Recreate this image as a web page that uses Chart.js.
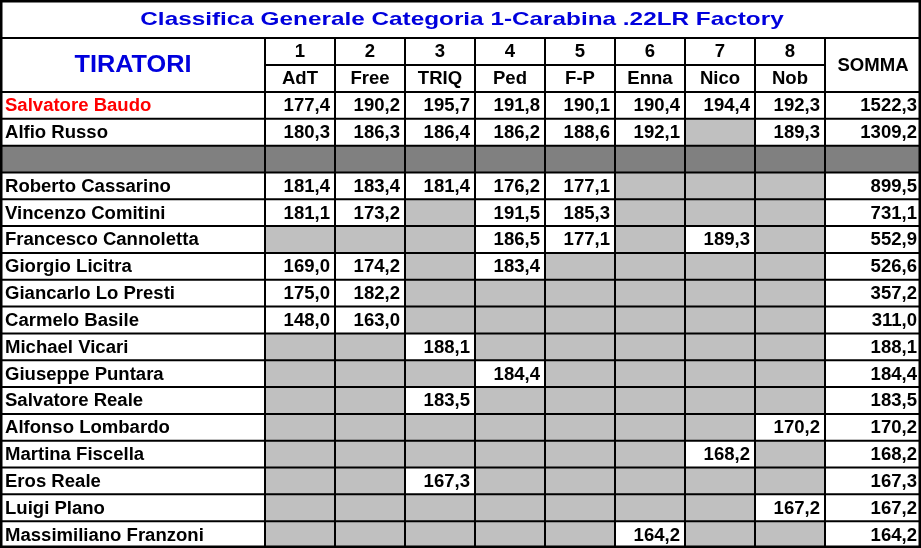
<!DOCTYPE html>
<html><head><meta charset="utf-8">
<script src="https://cdn.jsdelivr.net/npm/chart.js@4"></script>
<style>html,body{margin:0;padding:0;background:#fff}#wrap{width:921px;height:548px}</style>
</head><body><div id="wrap"><canvas id="tbl"></canvas></div>
<script>
const title = 'Classifica Generale Categoria 1-Carabina .22LR Factory';
const roundNums = ['1', '2', '3', '4', '5', '6', '7', '8'];
const roundNames = ['AdT', 'Free', 'TRIQ', 'Ped', 'F-P', 'Enna', 'Nico', 'Nob'];
const shooters = ['Salvatore Baudo', 'Alfio Russo', '', 'Roberto Cassarino', 'Vincenzo Comitini',
  'Francesco Cannoletta', 'Giorgio Licitra', 'Giancarlo Lo Presti', 'Carmelo Basile', 'Michael Vicari',
  'Giuseppe Puntara', 'Salvatore Reale', 'Alfonso Lombardo', 'Martina Fiscella', 'Eros Reale',
  'Luigi Plano', 'Massimiliano Franzoni'];
const _ = null;
const scores = [
  [177.4, 190.2, 195.7, 191.8, 190.1, 190.4, 194.4, 192.3],
  [180.3, 186.3, 186.4, 186.2, 188.6, 192.1, _, 189.3],
  'sep',
  [181.4, 183.4, 181.4, 176.2, 177.1, _, _, _],
  [181.1, 173.2, _, 191.5, 185.3, _, _, _],
  [_, _, _, 186.5, 177.1, _, 189.3, _],
  [169.0, 174.2, _, 183.4, _, _, _, _],
  [175.0, 182.2, _, _, _, _, _, _],
  [148.0, 163.0, _, _, _, _, _, _],
  [_, _, 188.1, _, _, _, _, _],
  [_, _, _, 184.4, _, _, _, _],
  [_, _, 183.5, _, _, _, _, _],
  [_, _, _, _, _, _, _, 170.2],
  [_, _, _, _, _, _, 168.2, _],
  [_, _, 167.3, _, _, _, _, _],
  [_, _, _, _, _, _, _, 167.2],
  [_, _, _, _, _, 164.2, _, _]
];
const totals = [1522.3, 1309.2, _, 899.5, 731.1, 552.9, 526.6, 357.2, 311.0, 188.1, 184.4, 183.5, 170.2, 168.2, 167.3, 167.2, 164.2];

// column edges and row layout in the scale's units
const colEdges = [0, 265, 335, 405, 475, 545, 615, 685, 755, 825, 921];
const titleH = 38, headH = 27, rowH = (548 - titleH - 2 * headH) / shooters.length;
const fmt = v => v.toFixed(1).replace('.', ',');

const tablePlugin = {
  id: 'table',
  afterDraw(chart) {
    const c = chart.ctx, X = chart.scales.x, Y = chart.scales.y;
    const px = v => X.getPixelForValue(v), py = v => Y.getPixelForValue(v);
    const rect = (x0, y0, x1, y1, fill) => { c.fillStyle = fill; c.fillRect(px(x0), py(y0), px(x1) - px(x0), py(y1) - py(y0)); };
    const text = (s, x, y, align, color, size, stretch) => {
      c.save();
      c.font = 'bold ' + (size || 18) + 'px "Liberation Sans", Arial, sans-serif';
      c.fillStyle = color || '#000'; c.textAlign = align; c.textBaseline = 'middle';
      const k = stretch || 1.03;
      c.translate(px(x), py(y) + 1); c.scale(k, 1);
      c.fillText(s, 0, 0);
      c.restore();
    };
    c.save();
    rect(0, 0, 921, 548, '#fff');
    text(title, 462, titleH / 2, 'center', '#0000dd', 19, 1.28);
    const top = titleH + 2 * headH;
    shooters.forEach((name, r) => {
      const y0 = top + r * rowH, y1 = y0 + rowH, ym = (y0 + y1) / 2;
      if (scores[r] === 'sep') { rect(0, y0, 921, y1, '#808080'); return; }
      text(name, 5, ym, 'left', r === 0 ? '#ff0000' : '#000');
      scores[r].forEach((v, i) => {
        if (v === null) rect(colEdges[i + 1], y0, colEdges[i + 2], y1, '#c0c0c0');
        else text(fmt(v), colEdges[i + 2] - 5, ym, 'right');
      });
      text(fmt(totals[r]), 921 - 4, ym, 'right');
    });
    text('TIRATORI', 133, titleH + headH, 'center', '#0000dd', 23, 1.1);
    text('SOMMA', 873, titleH + headH, 'center');
    roundNums.forEach((s, i) => {
      const xm = (colEdges[i + 1] + colEdges[i + 2]) / 2;
      text(s, xm, titleH + headH / 2, 'center');
      text(roundNames[i], xm, titleH + headH * 1.5, 'center');
    });
    // grid lines
    c.strokeStyle = '#000'; c.lineWidth = 2;
    const line = (x0, y0, x1, y1) => { c.beginPath(); c.moveTo(px(x0), py(y0)); c.lineTo(px(x1), py(y1)); c.stroke(); };
    line(0, titleH, 921, titleH);
    line(colEdges[1], titleH + headH, colEdges[9], titleH + headH);
    for (let r = 0; r <= shooters.length; r++) line(0, top + r * rowH, 921, top + r * rowH);
    colEdges.slice(1, -1).forEach(x => line(x, titleH, x, 548));
    c.lineWidth = 3; c.strokeRect(px(0) + 1, py(0) + 1, px(921) - px(0) - 2, py(548) - py(0) - 2);
    c.restore();
  }
};

new Chart(document.getElementById('tbl'), {
  type: 'scatter',
  data: { datasets: [{ data: [] }] },
  options: {
    responsive: true, maintainAspectRatio: false, animation: false,
    layout: { padding: 0 },
    plugins: { legend: { display: false }, tooltip: { enabled: false } },
    scales: {
      x: { type: 'linear', min: 0, max: 921, display: false },
      y: { type: 'linear', min: 0, max: 548, reverse: true, display: false }
    }
  },
  plugins: [tablePlugin]
});
</script></body></html>
